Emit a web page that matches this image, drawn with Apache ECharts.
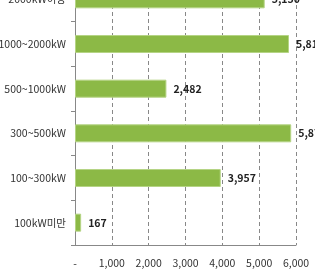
<!DOCTYPE html>
<html><head><meta charset="utf-8">
<script src="https://cdn.jsdelivr.net/npm/echarts@6/dist/echarts.min.js"></script>
<style>html,body{margin:0;padding:0;background:#fff}#c{width:315px;height:278px}</style>
</head><body><div id="c"></div>
<script>
var categories = ['100kW미만', '100~300kW', '300~500kW', '500~1000kW', '1000~2000kW', '2000kW이상'];
var values = [167, 3957, 5870, 2482, 5810, 5150];
var xTicks = [0, 1000, 2000, 3000, 4000, 5000, 6000];

var chart = echarts.init(document.getElementById('c'));
var font = '"Noto Sans CJK KR", "Noto Sans", sans-serif';
chart.setOption({
  animation: false,
  grid: { left: 75, right: 19, top: -23, bottom: 33, containLabel: false, outerBoundsMode: 'none' },
  xAxis: {
    type: 'value', min: xTicks[0], max: xTicks[xTicks.length - 1], interval: 1000,
    axisLine: { show: true, lineStyle: { color: '#888', width: 1 } },
    axisTick: { show: false },
    splitLine: { show: true, lineStyle: { color: '#888', type: [4, 3], width: 1 } },
    axisLabel: {
      color: '#333', fontSize: 10.5, fontFamily: font, margin: 13,
      formatter: function (v) { return v === 0 ? '-' : v.toLocaleString('en-US'); }
    }
  },
  yAxis: {
    type: 'category', data: categories,
    axisLine: { show: true, lineStyle: { color: '#888', width: 1 } },
    axisTick: { show: true, length: 4, lineStyle: { color: '#888' } },
    axisLabel: { color: '#333', fontSize: 10.5, fontFamily: font, margin: 9 }
  },
  series: [{
    type: 'bar', data: values, barWidth: 18,
    itemStyle: { color: '#8cb946', borderColor: '#b5d485', borderWidth: 1 },
    label: {
      show: true, position: 'right', distance: 7, color: '#222', fontWeight: 'bold',
      fontSize: 10.5, fontFamily: font,
      formatter: function (p) { return p.value.toLocaleString('en-US'); }
    }
  }]
});
</script></body></html>
